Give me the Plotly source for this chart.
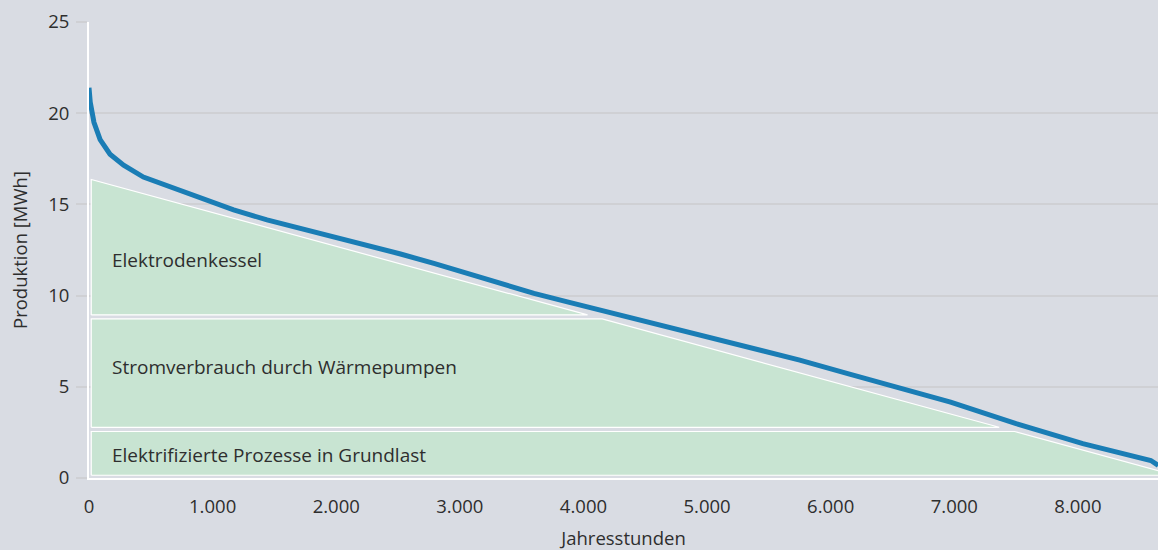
import plotly.graph_objects as go

# ---- data ----
hours = [0, 10, 40, 90, 170, 280, 440, 660, 900, 1170, 1440, 1710, 1980, 2250,
         2520, 2790, 3060, 3330, 3600, 3870, 4140, 4540, 4940, 5350, 5750,
         6160, 6560, 6970, 7500, 8040, 8590, 8650]
production = [21.4, 20.6, 19.5, 18.55, 17.75, 17.15, 16.5, 15.95, 15.4, 14.7,
              14.15, 13.7, 13.23, 12.77, 12.28, 11.77, 11.22, 10.7, 10.12, 9.66,
              9.2, 8.5, 7.83, 7.15, 6.46, 5.68, 4.9, 4.16, 2.98, 1.88, 0.96, 0.69]

band_names = ["Elektrifizierte Prozesse in Grundlast",
              "Stromverbrauch durch Wärmepumpen",
              "Elektrodenkessel"]
band_lower = [0.15, 2.78, 8.94]
band_upper = [2.55, 8.72, None]      # None -> bounded only by the diagonal
diag_hours = [0, 8650]
diag_values = [16.4, 0.4]

x_ticks = [0, 1000, 2000, 3000, 4000, 5000, 6000, 7000, 8000]
y_ticks = [0, 5, 10, 15, 20, 25]

# ---- styling ----
BG = "#d9dce3"
GRID = "#cfd0d4"
GREEN = "#c8e4d2"
BLUE = "#1a7db5"
TXT = "#2e2e2e"
FONT = "Open Sans"
X0 = 18  # small inset of the bands from the axis

slope = (diag_values[1] - diag_values[0]) / (diag_hours[1] - diag_hours[0])


def diag_at(h):
    return diag_values[0] + slope * (h - diag_hours[0])


def hour_at(v):
    return diag_hours[0] + (v - diag_values[0]) / slope


fig = go.Figure()

for name, lo, hi in zip(band_names, band_lower, band_upper):
    if hi is None:
        xs = [X0, hour_at(lo), X0, X0]
        ys = [lo, lo, diag_at(X0), lo]
    else:
        xs = [X0, hour_at(lo), hour_at(hi), X0, X0]
        ys = [lo, lo, hi, hi, lo]
    fig.add_trace(go.Scatter(x=xs, y=ys, mode="lines", fill="toself",
                             fillcolor=GREEN, line=dict(color="white", width=1.2),
                             hoverinfo="skip", name=name, showlegend=False))

fig.add_trace(go.Scatter(x=hours, y=production, mode="lines",
                         line=dict(color=BLUE, width=5), showlegend=False,
                         name="Produktion"))

label_y = [1.25, 6.1, 11.95]
for name, y in zip(band_names, label_y):
    fig.add_annotation(x=170, y=y, xref="x", yref="y", text=name,
                       showarrow=False, xanchor="left", yanchor="middle",
                       font=dict(family=FONT, size=19, color=TXT))

fig.update_layout(
    width=1158, height=550,
    paper_bgcolor=BG, plot_bgcolor=BG,
    margin=dict(l=89, r=0, t=22, b=72),
    separators=",.",
    font=dict(family=FONT, size=18.5, color=TXT),
    showlegend=False,
)
fig.update_xaxes(range=[0, 8648], tickvals=x_ticks, tickformat=",d",
                 showgrid=False, zeroline=False, showline=True,
                 linecolor="white", linewidth=2, ticks="",
                 ticklabelstandoff=11,
                 title=dict(text="Jahresstunden", standoff=18,
                            font=dict(size=18.5, color=TXT)))
fig.update_yaxes(range=[0, 25], tickvals=y_ticks, showgrid=True,
                 gridcolor=GRID, gridwidth=2, zeroline=False,
                 showline=True, linecolor="white", linewidth=2,
                 ticks="outside", ticklen=11, tickcolor=GRID, tickwidth=2,
                 ticklabelstandoff=3,
                 title=dict(text="Produktion [MWh]", standoff=16,
                            font=dict(size=18.5, color=TXT)))

fig.write_html("out.html", config={"displayModeBar": False},
               post_script="document.body.style.margin='0';"
                           "document.body.style.background='" + BG + "';")
